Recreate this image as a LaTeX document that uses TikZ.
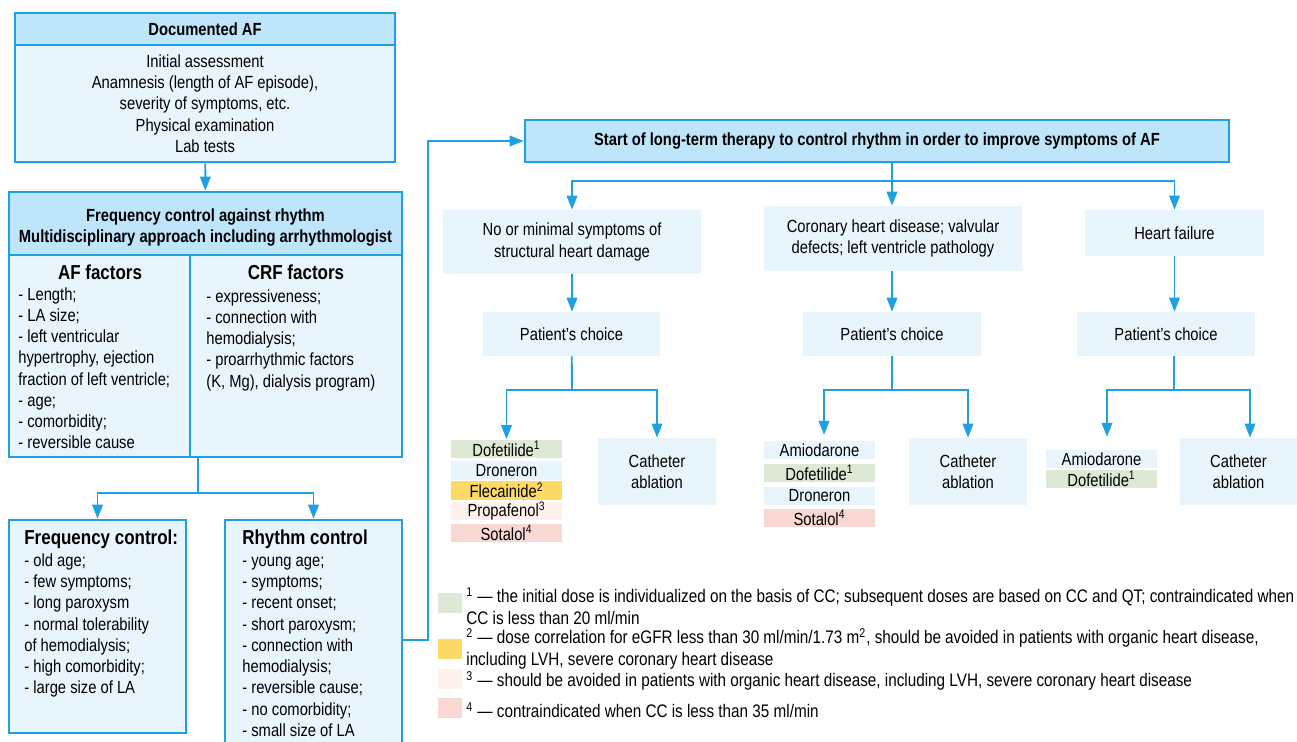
\documentclass[tikz,border=0pt]{standalone}
\usepackage{fontspec}
\setmainfont{Liberation Sans}[FakeStretch=0.84]
\usetikzlibrary{arrows.meta,positioning}
\definecolor{afblue}{RGB}{29,161,226}
\definecolor{afhead}{RGB}{190,229,249}
\definecolor{afbody}{RGB}{232,245,253}
\definecolor{afgreen}{RGB}{221,233,212}
\definecolor{afyellow}{RGB}{255,217,102}
\definecolor{afpeach}{RGB}{255,242,236}
\definecolor{afpink}{RGB}{249,215,211}
\begin{document}
\begin{tikzpicture}[x=0.02cm,y=-0.02cm,>={Triangle[length=8pt,width=6pt]},
  every node/.style={font=\fontsize{10}{12.1}\selectfont},
  head/.style={draw=afblue,line width=1.5pt,fill=afhead,align=center,inner sep=0pt,
    font=\fontsize{10}{12.4}\selectfont\bfseries},
  panel/.style={draw=afblue,line width=1.5pt,fill=afbody,inner sep=0pt},
  plain/.style={fill=afbody,align=center,inner sep=0pt},
  txt/.style={align=left,inner sep=0pt},
  note/.style={align=left,inner sep=0pt,font=\fontsize{10.35}{12.4}\selectfont},
  big/.style={inner sep=0pt,font=\fontsize{11.5}{12.1}\selectfont\bfseries},
  drug/.style={minimum width=2.22cm,minimum height=0.38cm,inner sep=0pt},
  key/.style={minimum width=0.48cm,minimum height=0.4cm,inner sep=0pt},
  link/.style={afblue,line width=1.1pt}]
 \useasboundingbox (0,0) rectangle (1297,742);
 % left column
 \node[head,minimum width=7.6cm,minimum height=0.64cm] (doc) at (205,29) {Documented AF};
 \node[panel,minimum width=7.6cm,minimum height=2.34cm,align=center] (init) at (205,103.5)
   {Initial assessment\\Anamnesis (length of AF episode),\\severity of symptoms, etc.\\Physical examination\\Lab tests};
 \node[head,minimum width=7.86cm,minimum height=1.26cm,text height=0.85cm] (fvr) at (205.5,223.5)
   {Frequency control against rhythm\\Multidisciplinary approach including arrhythmologist};
 \node[panel,minimum width=3.62cm,minimum height=4.04cm] (affac) at (99.5,356) {};
 \node[panel,minimum width=4.24cm,minimum height=4.04cm] (crffac) at (296,356) {};
 \node[big] (afhd) at (100,272) {AF factors};
 \node[big] (crfhd) at (296,272) {CRF factors};
 \node[txt,anchor=north west] (aflist) at (18,287)
   {- Length;\\- LA size;\\- left ventricular\\hypertrophy, ejection\\fraction of left ventricle;\\- age;\\- comorbidity;\\- reversible cause};
 \node[txt,anchor=north west] (crflist) at (206,289)
   {- expressiveness;\\- connection with\\hemodialysis;\\- proarrhythmic factors\\(K, Mg), dialysis program)};
 \node[panel,minimum width=3.54cm,minimum height=4.26cm] (freqctl) at (97.5,626.5) {};
 \node[panel,minimum width=3.54cm,minimum height=4.8cm] (rhyctl) at (313.5,640) {};
 \node[txt,anchor=north west] (freqlist) at (24,530)
   {{\fontsize{11.5}{12.1}\selectfont\bfseries Frequency control:}\\- old age;\\- few symptoms;\\- long paroxysm\\- normal tolerability\\of hemodialysis;\\- high comorbidity;\\- large size of LA};
 \node[txt,anchor=north west] (rhylist) at (242,530)
   {{\fontsize{11.5}{12.1}\selectfont\bfseries Rhythm control}\\- young age;\\- symptoms;\\- recent onset;\\- short paroxysm;\\- connection with\\hemodialysis;\\- reversible cause;\\- no comorbidity;\\- small size of LA};
 % right part
 \node[head,minimum width=14.08cm,minimum height=0.84cm] (start) at (877,141)
   {Start of long-term therapy to control rhythm in order to improve symptoms of AF};
 \node[plain,minimum width=5.16cm,minimum height=1.28cm] (cond1) at (572,242) {No or minimal symptoms of\\structural heart damage};
 \node[plain,minimum width=5.16cm,minimum height=1.3cm] (cond2) at (893,238.5) {Coronary heart disease; valvular\\defects; left ventricle pathology};
 \node[plain,minimum width=3.58cm,minimum height=0.92cm] (cond3) at (1174.5,233) {Heart failure};
 \node[plain,minimum width=3.54cm,minimum height=0.88cm] (choice1) at (571.5,334) {Patient’s choice};
 \node[plain,minimum width=3.56cm,minimum height=0.88cm] (choice2) at (892,334) {Patient’s choice};
 \node[plain,minimum width=3.56cm,minimum height=0.88cm] (choice3) at (1166,334) {Patient’s choice};
 \node[plain,minimum width=2.36cm,minimum height=1.34cm] (cath1) at (657,471.5) {Catheter\\ablation};
 \node[plain,minimum width=2.36cm,minimum height=1.34cm] (cath2) at (968,471.5) {Catheter\\ablation};
 \node[plain,minimum width=2.36cm,minimum height=1.34cm] (cath3) at (1238.5,471.5) {Catheter\\ablation};
 \foreach \n/\x/\y/\c/\t in {dofe1/506.5/449/afgreen/Dofetilide\textsuperscript{1},
     dron1/506.5/470.5/afbody/Droneron, flec1/506.5/490.5/afyellow/Flecainide\textsuperscript{2},
     prop1/506.5/511/afpeach/Propafenol\textsuperscript{3}, sota1/506.5/533/afpink/Sotalol\textsuperscript{4},
     amio2/819.5/450/afbody/Amiodarone, dofe2/819.5/473/afgreen/Dofetilide\textsuperscript{1},
     dron2/819.5/496/afbody/Droneron, sota2/819.5/518/afpink/Sotalol\textsuperscript{4},
     amio3/1101.5/459/afbody/Amiodarone, dofe3/1101.5/479/afgreen/Dofetilide\textsuperscript{1}}
   \node[drug,fill=\c] (\n) at (\x,\y) {\t};
 % legend
 \node[key,fill=afgreen] (key1) at (450,603) {};
 \node[key,fill=afyellow] (key2) at (450,649) {};
 \node[key,fill=afpeach] (key3) at (450,678.5) {};
 \node[key,fill=afpink] (key4) at (450,708) {};
 \node[note,anchor=west] (note1) at (466,606)
   {\textsuperscript{1} — the initial dose is individualized on the basis of CC; subsequent doses are based on CC and QT; contraindicated when\\CC is less than 20 ml/min};
 \node[note,anchor=west] (note2) at (466,649)
   {\textsuperscript{2} — dose correlation for eGFR less than 30 ml/min/1.73 m\textsuperscript{2}, should be avoided in patients with organic heart disease,\\including LVH, severe coronary heart disease};
 \node[note,anchor=west] (note3) at (466,681)
   {\textsuperscript{3} — should be avoided in patients with organic heart disease, including LVH, severe coronary heart disease};
 \node[note,anchor=west] (note4) at (466,710)
   {\textsuperscript{4} — contraindicated when CC is less than 35 ml/min};
 % connectors
 \draw[link,->] (init) -- (fvr);
 \coordinate (fork1) at (198,493);
 \draw[link] (fork1 |- affac.south) -- (fork1);
 \draw[link,->] (fork1) -| (freqctl);
 \draw[link,->] (fork1) -| (rhyctl);
 \coordinate (loop) at (428,141);
 \draw[link,->] (rhyctl.east) -| (loop) -- (start);
 \coordinate (fork2) at (892,181);
 \draw[link] (fork2 |- start.south) -- (fork2);
 \draw[link,->] (fork2) -| (cond1);
 \draw[link,->] (fork2) -- (fork2 |- cond2.north);
 \draw[link,->] (fork2) -| (cond3);
 \draw[link,->] (cond1.south) -- (cond1.south |- choice1.north);
 \draw[link,->] (cond2.south -| choice2) -- (choice2);
 \draw[link,->] (cond3.south) -- (cond3.south |- choice3.north);
 \coordinate (fork3) at (572,390);
 \coordinate (fork4) at (892,390);
 \coordinate (fork5) at (1174,390);
 \draw[link] (choice1) -- (fork3);
 \draw[link] (choice2) -- (fork4);
 \draw[link] (fork5 |- choice3.south) -- (fork5);
 \draw[link,->] (fork3) -| (dofe1);
 \draw[link,->] (fork3) -| (cath1);
 \draw[link,->,shorten >=3pt] (fork4) -| ([xshift=0.09cm]amio2.north);
 \draw[link,->] (fork4) -| (cath2);
 \draw[link,->,shorten >=7pt] (fork5) -| ([xshift=0.11cm]amio3.north);
 \draw[link,->] (fork5) -| ([xshift=0.23cm]cath3.north);
\end{tikzpicture}
\end{document}
